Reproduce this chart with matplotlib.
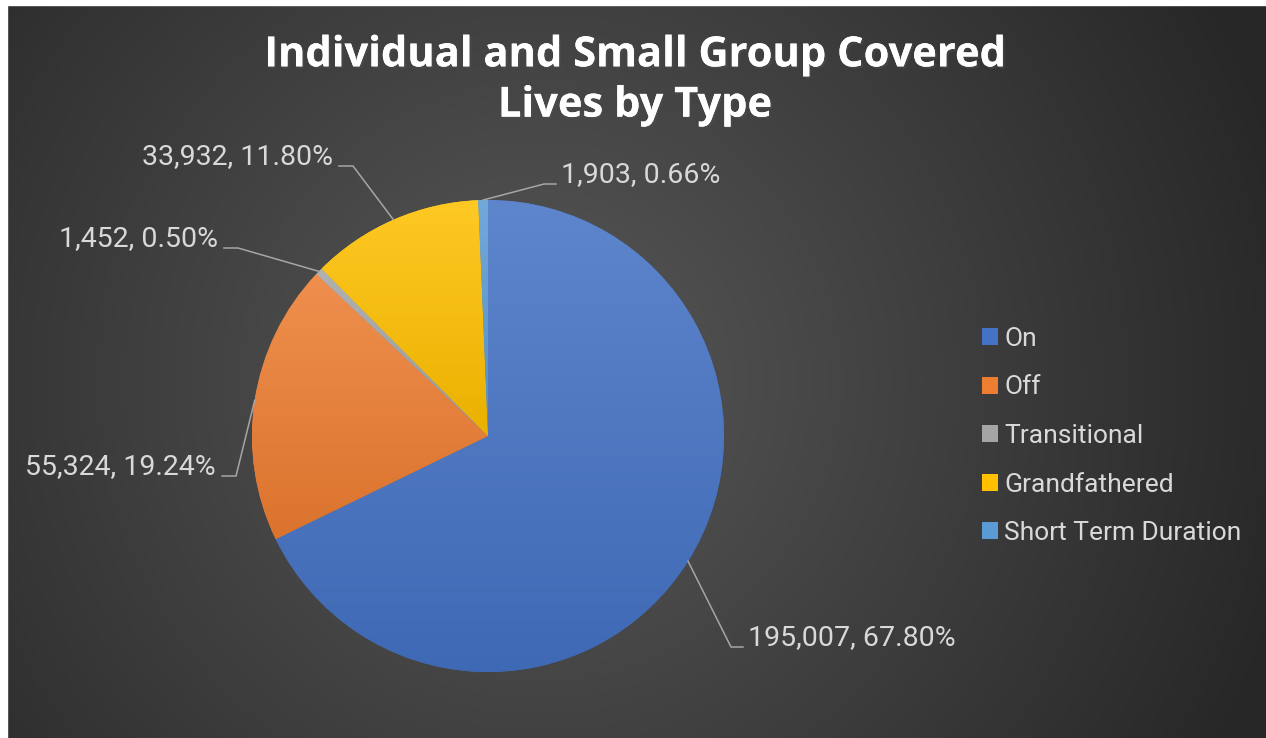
import numpy as np
import matplotlib
matplotlib.use("Agg")
import matplotlib.pyplot as plt
import matplotlib.patheffects as pe
from matplotlib.colors import to_rgb

# data
types = ["On", "Off", "Transitional", "Grandfathered", "Short Term Duration"]
lives = [195007, 55324, 1452, 33932, 1903]
colors = ["#4472C4", "#ED7D31", "#A5A5A5", "#FFC000", "#5B9BD5"]

W, H = 1266, 738
fig = plt.figure(figsize=(W / 100, H / 100), dpi=100)
fig.patch.set_facecolor("white")
ax = fig.add_axes([0, 0, 1, 1])

# radial background
yy, xx = np.mgrid[0:H, 0:W]
d = np.hypot(xx - 540, yy - 380) / 780.0
d = np.clip(d, 0, 1)
c0 = np.array(to_rgb("#585858"))
c1 = np.array(to_rgb("#272727"))
bg = c0[None, None, :] * (1 - d[..., None]) + c1[None, None, :] * d[..., None]
ax.imshow(bg, extent=(0, W, 0, H), origin="upper", zorder=0)
# white margin top/left
ax.add_patch(plt.Rectangle((0, 0), 7, H, color="white", zorder=1))
ax.add_patch(plt.Rectangle((0, H - 5), W, 5, color="white", zorder=1))

cx, cy, R = 488, H - 436, 236
wedges, _ = ax.pie(lives, colors=colors, startangle=90, counterclock=False,
                   center=(cx, cy), radius=R, wedgeprops=dict(linewidth=0))
for w in wedges:
    w.set_zorder(2)


def mix(c, other, t):
    c = np.array(to_rgb(c))
    return c * (1 - t) + np.array(other) * t


# vertical gradient inside each slice
for w, col in zip(wedges, colors):
    ext = w.get_path().get_extents()
    top = mix(col, (1, 1, 1), 0.14)
    bot = mix(col, (0, 0, 0), 0.08)
    t = np.linspace(0, 1, 256)[:, None]
    grad = top[None, :] * (1 - t) + bot[None, :] * t
    grad = np.repeat(grad[:, None, :], 2, axis=1)
    im = ax.imshow(grad, extent=(ext.x0, ext.x1, ext.y0, ext.y1),
                   origin="upper", aspect="auto", zorder=3)
    im.set_clip_path(w)

# data labels with leader lines
total = sum(lives)
label_pos = [(748, 638, "left"), (216, 467, "right"), (218, 239, "right"),
             (333, 157, "right"), (561, 175, "left")]
for w, v, (tx, ty, side) in zip(wedges, lives, label_pos):
    mid = np.deg2rad((w.theta1 + w.theta2) / 2)
    ex, ey = cx + R * np.cos(mid), cy + R * np.sin(mid)
    ly = H - ty - 9
    if side == "left":
        xs = [ex, tx - 17, tx - 5]
    else:
        xs = [ex, tx + 20, tx + 6]
    ax.plot(xs, [ey, ly, ly], color="#A6A6A6", lw=1.1, zorder=4,
            solid_joinstyle="miter")
    ax.text(tx, H - ty, f"{v:,}, {v / total * 100:.2f}%", ha=side, va="center",
            color="#D9D9D9", fontsize=20.5, family="Roboto", zorder=5)

ax.text(635, H - 81, "Individual and Small Group Covered\nLives by Type",
        ha="center", va="center", color="white", fontsize=30,
        family="Open Sans", fontweight="bold", linespacing=1.3, zorder=5,
        path_effects=[pe.withSimplePatchShadow(offset=(1.5, -1.5), alpha=0.5),
                      pe.Normal()])

leg = ax.legend(wedges, types, loc="center left",
                bbox_to_anchor=(982, H - 436), bbox_transform=ax.transData,
                frameon=False, prop=dict(family="Roboto", size=19),
                labelcolor="#D9D9D9", handlelength=0.6, handleheight=0.6,
                handletextpad=0.25, labelspacing=0.93, borderpad=0,
                borderaxespad=0)

ax.set_xlim(0, W)
ax.set_ylim(0, H)
ax.set_aspect("auto")
ax.axis("off")

plt.savefig("out.png", dpi=100)
